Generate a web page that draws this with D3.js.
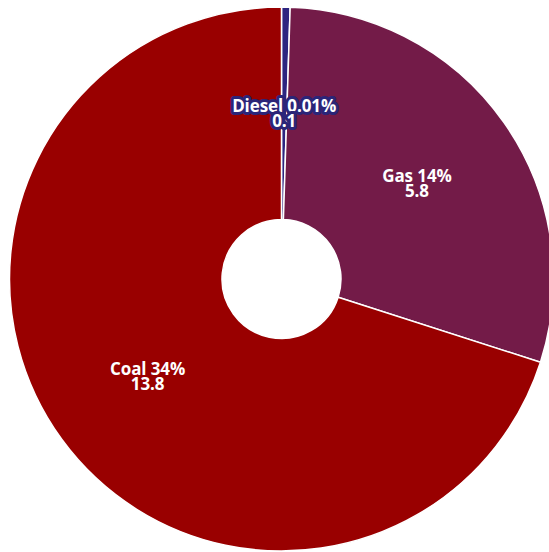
<!DOCTYPE html>
<html>
<head>
<meta charset="utf-8">
<script src="https://cdn.jsdelivr.net/npm/d3@7"></script>
<style>
  html, body { margin: 0; padding: 0; background: #fff; }
  svg { display: block; }
  .lbl { font-family: "Open Sans", Lato, sans-serif; font-weight: 700; font-size: 17px; letter-spacing: -0.1px; }
</style>
</head>
<body>
<svg id="chart" width="549" height="552"></svg>
<script>
// Fuel mix: labels, shares and absolute values
const fuels = ["Diesel", "Gas", "Coal"];
const values = [0.1, 5.8, 13.8];
const shares = ["0.01%", "14%", "34%"];
const colors = ["#2d2580", "#731b48", "#990000"];

const width = 549, height = 552;
const cx = 281.5, cy = 279;
const outerR = 272, innerR = 59.5;

const data = fuels.map((f, i) => ({ fuel: f, value: values[i], share: shares[i], color: colors[i] }));

const svg = d3.select("#chart");
const g = svg.append("g").attr("transform", `translate(${cx},${cy})`);

const pie = d3.pie().value(d => d.value).sort(null);
const arc = d3.arc().innerRadius(innerR).outerRadius(outerR);

const arcs = pie(data);
const total = d3.sum(values);

g.selectAll("path.slice")
  .data(arcs)
  .join("path")
  .attr("class", "slice")
  .attr("d", arc)
  .attr("fill", d => d.data.color)
  .attr("stroke", "#fff")
  .attr("stroke-width", 1.5)
  .attr("stroke-linejoin", "round");

// Two-line label per slice: name + share, then the value
const lines = [
  { dy: -1.5, text: d => `${d.data.fuel} ${d.data.share}` },
  { dy: 13.5, text: d => d3.format(".1f")(d.data.value) }
];

const labelGroups = g.selectAll("g.lbl-group")
  .data(arcs)
  .join("g")
  .attr("class", "lbl-group")
  .attr("transform", d => {
    const [x, y] = arc.centroid(d);
    return `translate(${x},${y})`;
  });

labelGroups.each(function(d) {
  const grp = d3.select(this);
  const small = d.value / total < 0.02;
  lines.forEach(line => {
    const t = grp.append("text")
      .attr("class", "lbl")
      .attr("text-anchor", "middle")
      .attr("y", line.dy)
      .attr("fill", "#fff")
      .text(line.text(d));
    // Small slices get an outline halo so the label stays readable across neighbours
    if (small) {
      t.attr("stroke", "#2b2578").attr("stroke-width", 6)
       .attr("paint-order", "stroke").attr("stroke-linejoin", "round");
    }
  });
});
</script>
</body>
</html>
